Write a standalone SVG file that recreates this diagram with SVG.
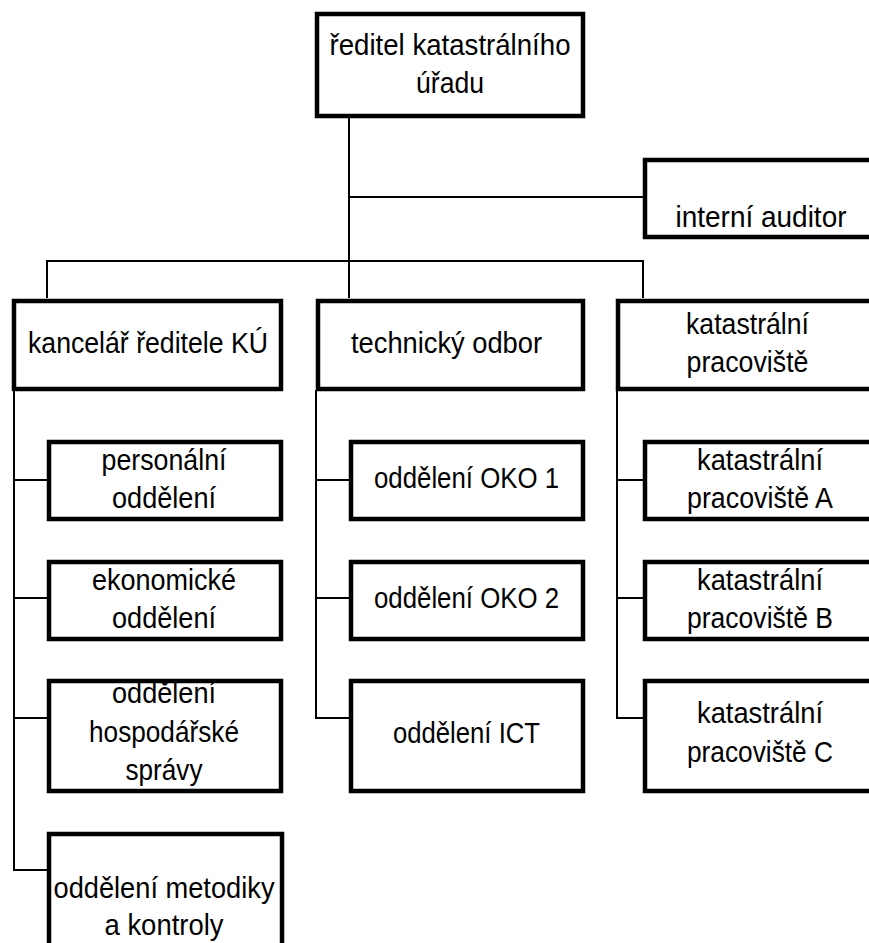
<svg xmlns="http://www.w3.org/2000/svg" width="869" height="943" viewBox="0 0 869 943">
<style>
.box{fill:#fff;stroke:#000;stroke-width:4.5}
.c{fill:none;stroke:#000;stroke-width:2}
text{font-family:"Liberation Sans",Arial,sans-serif;font-size:29px;fill:#000;text-anchor:middle}
</style>
<rect width="869" height="943" fill="#fff"/>
<g id="connectors">
<path class="c" d="M349 118V298M349 197H643M47 298V261H643V298"/>
<path class="c" d="M14 390V870H47M14 480H47M14 598H47M14 718H47"/>
<path class="c" d="M316 390V718H349M316 480H349M316 598H349"/>
<path class="c" d="M617 390V718H643M617 480H643M617 598H643"/>
</g>
<g id="reditel">
<rect class="box" x="317" y="14" width="266" height="102"/>
<text x="450" y="55" textLength="241" lengthAdjust="spacingAndGlyphs">ředitel katastrálního</text>
<text x="450" y="93" textLength="68" lengthAdjust="spacingAndGlyphs">úřadu</text>
</g>
<g id="auditor">
<rect class="box" x="645" y="160" width="240" height="77"/>
<text x="761" y="227" textLength="171" lengthAdjust="spacingAndGlyphs">interní auditor</text>
</g>
<g id="kancelar">
<rect class="box" x="14" y="301" width="267" height="88"/>
<text x="148" y="353" textLength="240" lengthAdjust="spacingAndGlyphs">kancelář ředitele KÚ</text>
</g>
<g id="technicky">
<rect class="box" x="318" y="301" width="265" height="88"/>
<text x="446.5" y="353" textLength="191" lengthAdjust="spacingAndGlyphs">technický odbor</text>
</g>
<g id="pracoviste">
<rect class="box" x="618" y="301" width="270" height="88"/>
<text x="747.5" y="334" textLength="123" lengthAdjust="spacingAndGlyphs">katastrální</text>
<text x="747.5" y="372" textLength="122" lengthAdjust="spacingAndGlyphs">pracoviště</text>
</g>
<g id="personalni">
<rect class="box" x="49" y="442" width="232" height="77"/>
<text x="164" y="470" textLength="125" lengthAdjust="spacingAndGlyphs">personální</text>
<text x="164" y="508" textLength="104" lengthAdjust="spacingAndGlyphs">oddělení</text>
</g>
<g id="ekonomicke">
<rect class="box" x="49" y="562" width="232" height="77"/>
<text x="164" y="590" textLength="144" lengthAdjust="spacingAndGlyphs">ekonomické</text>
<text x="164" y="628" textLength="104" lengthAdjust="spacingAndGlyphs">oddělení</text>
</g>
<g id="hospodarske">
<rect class="box" x="49" y="681" width="232" height="110"/>
<text x="164" y="703" textLength="104" lengthAdjust="spacingAndGlyphs">oddělení</text>
<text x="164" y="742" textLength="150" lengthAdjust="spacingAndGlyphs">hospodářské</text>
<text x="164" y="780" textLength="77" lengthAdjust="spacingAndGlyphs">správy</text>
</g>
<g id="metodiky">
<rect class="box" x="49" y="834" width="233" height="130"/>
<text x="164" y="898" textLength="221" lengthAdjust="spacingAndGlyphs">oddělení metodiky</text>
<text x="164" y="935" textLength="119" lengthAdjust="spacingAndGlyphs">a kontroly</text>
</g>
<g id="oko1">
<rect class="box" x="351" y="442" width="232" height="77"/>
<text x="466.5" y="488" textLength="185" lengthAdjust="spacingAndGlyphs">oddělení OKO 1</text>
</g>
<g id="oko2">
<rect class="box" x="351" y="562" width="232" height="77"/>
<text x="466.5" y="608" textLength="185" lengthAdjust="spacingAndGlyphs">oddělení OKO 2</text>
</g>
<g id="ict">
<rect class="box" x="351" y="681" width="232" height="110"/>
<text x="466.5" y="743" textLength="147" lengthAdjust="spacingAndGlyphs">oddělení ICT</text>
</g>
<g id="pracovisteA">
<rect class="box" x="645" y="442" width="240" height="77"/>
<text x="760" y="470" textLength="126" lengthAdjust="spacingAndGlyphs">katastrální</text>
<text x="760" y="508" textLength="146" lengthAdjust="spacingAndGlyphs">pracoviště A</text>
</g>
<g id="pracovisteB">
<rect class="box" x="645" y="562" width="240" height="77"/>
<text x="760" y="590" textLength="126" lengthAdjust="spacingAndGlyphs">katastrální</text>
<text x="760" y="628" textLength="146" lengthAdjust="spacingAndGlyphs">pracoviště B</text>
</g>
<g id="pracovisteC">
<rect class="box" x="645" y="681" width="240" height="110"/>
<text x="760" y="723" textLength="126" lengthAdjust="spacingAndGlyphs">katastrální</text>
<text x="760" y="762" textLength="146" lengthAdjust="spacingAndGlyphs">pracoviště C</text>
</g>
</svg>
